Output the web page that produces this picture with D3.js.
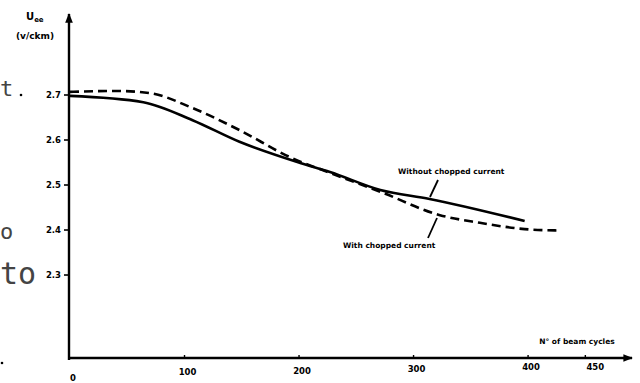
<!DOCTYPE html>
<html>
<head>
<meta charset="utf-8">
<script src="https://cdn.jsdelivr.net/npm/d3@7"></script>
<style>
  body { margin: 0; background: #fff; }
  svg { display: block; }
  .lbl { font-family: "DejaVu Sans", sans-serif; font-weight: bold; fill: #000; }
  .stray { font-family: "DejaVu Sans Mono", monospace; fill: #444; }
</style>
</head>
<body>
<svg id="chart" width="640" height="383"></svg>
<script>
// Values
const cycles = [0, 100, 200, 300, 400, 450];
const yTicks = [2.3, 2.4, 2.5, 2.6, 2.7];

// solid: "Without chopped current"
const withoutChopped = [
    [0, 2.698], [64, 2.684], [107, 2.644], [148, 2.596], [201, 2.549],
    [227, 2.529], [271, 2.489], [314, 2.469], [397, 2.420]
];
// dashed: "With chopped current"
const withChopped = [
    [0, 2.707], [40, 2.709], [70, 2.704], [107, 2.671], [148, 2.622],
    [192, 2.562], [227, 2.527], [271, 2.485], [323, 2.433], [358, 2.416],
    [397, 2.402], [425, 2.399]
];

const svg = d3.select("#chart");

// Scales fitted to the figure's grid
const x = d3.scaleLinear().domain([0, 489]).range([70, 630]);
const y = d3.scaleLinear().domain([2.1156, 2.7]).range([358, 95]);

const axisX = 69;
const baseY = 358;

// Stray text from the page underneath the figure
svg.append("text").attr("class", "stray").attr("x", 0).attr("y", 96)
    .attr("font-size", 22).text("t");
svg.append("circle").attr("cx", 21).attr("cy", 95).attr("r", 1.3).attr("fill", "#000");
svg.append("text").attr("class", "stray").attr("x", 0).attr("y", 239)
    .attr("font-size", 22).text("o");
svg.append("text").attr("class", "stray").attr("x", 0).attr("y", 284)
    .attr("font-size", 30).text("to");
svg.append("circle").attr("cx", 2).attr("cy", 363).attr("r", 1.3).attr("fill", "#000");

// Arrow head
svg.append("defs").append("marker")
    .attr("id", "arrow")
    .attr("viewBox", "0 0 10 10")
    .attr("refX", 9).attr("refY", 5)
    .attr("markerWidth", 4).attr("markerHeight", 4)
    .attr("orient", "auto")
  .append("path")
    .attr("d", "M0,1 L10,5 L0,9 Z")
    .attr("fill", "#000");

// Y axis
svg.append("line")
    .attr("x1", axisX).attr("y1", baseY + 2)
    .attr("x2", axisX).attr("y2", 14)
    .attr("stroke", "#000").attr("stroke-width", 2.4)
    .attr("marker-end", "url(#arrow)");

// X axis
svg.append("line")
    .attr("x1", axisX - 1).attr("y1", baseY)
    .attr("x2", 632).attr("y2", baseY)
    .attr("stroke", "#000").attr("stroke-width", 2.4)
    .attr("marker-end", "url(#arrow)");

// Y ticks
const yt = svg.append("g");
yt.selectAll("line").data(yTicks).join("line")
    .attr("x1", axisX - 5).attr("x2", axisX)
    .attr("y1", d => y(d)).attr("y2", d => y(d))
    .attr("stroke", "#000").attr("stroke-width", 1.6);
yt.selectAll("text").data(yTicks).join("text")
    .attr("class", "lbl")
    .attr("x", axisX - 8).attr("y", d => y(d) + 3)
    .attr("text-anchor", "end")
    .attr("font-size", 8.5)
    .text(d => d.toFixed(1));

// X ticks
const xt = svg.append("g");
xt.selectAll("line").data(cycles.filter(d => d > 0)).join("line")
    .attr("x1", d => x(d)).attr("x2", d => x(d))
    .attr("y1", baseY - 3).attr("y2", baseY)
    .attr("stroke", "#000").attr("stroke-width", 1.4);
xt.selectAll("text").data(cycles).join("text")
    .attr("class", "lbl")
    .attr("x", d => x(d) + (d === 450 ? 10 : 3))
    .attr("y", d => d === 0 ? 381 : 377 - d / 60)
    .attr("text-anchor", "middle")
    .attr("font-size", 8.5)
    .text(d => d);

// Axis titles
const ut = svg.append("text").attr("class", "lbl").attr("x", 26).attr("y", 20).attr("font-size", 10);
ut.append("tspan").text("U");
ut.append("tspan").attr("dy", 2).attr("font-size", 7).text("ee");
svg.append("text").attr("class", "lbl").attr("x", 35).attr("y", 39)
    .attr("text-anchor", "middle").attr("font-size", 9).text("(v/ckm)");
svg.append("text").attr("class", "lbl").attr("x", 577).attr("y", 344)
    .attr("text-anchor", "middle").attr("font-size", 7.5).text("N° of beam cycles");

// Curves
const line = d3.line()
    .x(d => x(d[0]))
    .y(d => y(d[1]))
    .curve(d3.curveMonotoneX);

svg.append("path").datum(withoutChopped)
    .attr("d", line)
    .attr("fill", "none").attr("stroke", "#000")
    .attr("stroke-width", 2.6);

svg.append("path").datum(withChopped)
    .attr("d", line)
    .attr("fill", "none").attr("stroke", "#000")
    .attr("stroke-width", 2.6)
    .attr("stroke-dasharray", "9,5");

// Curve annotations
svg.append("text").attr("class", "lbl").attr("x", 398).attr("y", 174)
    .attr("font-size", 7.5).text("Without chopped current");
svg.append("line").attr("x1", 438).attr("y1", 180).attr("x2", 430).attr("y2", 197)
    .attr("stroke", "#000").attr("stroke-width", 1.8);

svg.append("text").attr("class", "lbl").attr("x", 343).attr("y", 248)
    .attr("font-size", 7.5).text("With chopped current");
svg.append("line").attr("x1", 437).attr("y1", 218).attr("x2", 428).attr("y2", 238)
    .attr("stroke", "#000").attr("stroke-width", 1.8);
</script>
</body>
</html>
